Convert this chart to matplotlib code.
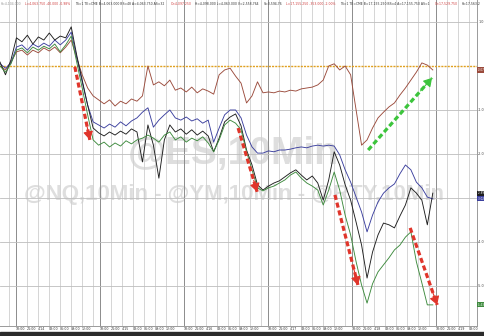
import matplotlib
matplotlib.use("Agg")
import matplotlib.pyplot as plt
import numpy as np

# ---- data: % change vs reference, sampled every 1.5 session-hours ----
hours = np.arange(80) * 1.5

es = [0.00, -0.09, 0.09, 0.32, 0.36, 0.25, 0.36, 0.30, 0.41, 0.34,
      0.43, 0.30, 0.43, 0.59, 0.18, -0.20, -0.50, -0.68, -0.77, -0.86,
      -0.77, -0.91, -0.80, -0.86, -0.75, -0.80, -0.68, 0.00, -0.43, -0.36,
      -0.45, -0.32, -0.55, -0.50, -0.59, -0.48, -0.61, -0.52, -0.57, -0.64,
      -0.20, -0.09, -0.05, -0.23, -0.39, -0.84, -0.68, -0.36, -0.61, -0.59,
      -0.61, -0.57, -0.59, -0.55, -0.57, -0.52, -0.50, -0.48, -0.43, -0.32,
      0.00, 0.05, -0.09, 0.00, -0.20, -1.00, -1.80, -1.68, -1.41, -1.18,
      -1.05, -0.93, -0.84, -0.66, -0.50, -0.32, -0.14, 0.07, 0.02, -0.09]

nq = [0.05, -0.05, 0.07, 0.43, 0.48, 0.36, 0.50, 0.43, 0.52, 0.45,
      0.59, 0.48, 0.59, 0.77, 0.20, -0.36, -0.89, -1.27, -1.34, -1.41,
      -1.32, -1.39, -1.27, -1.36, -1.25, -1.18, -1.05, -0.95, -1.39, -1.23,
      -1.11, -1.00, -1.18, -1.23, -1.16, -1.25, -1.20, -1.30, -1.23, -1.73,
      -1.41, -1.11, -1.00, -1.00, -1.18, -1.57, -1.84, -1.98, -1.98, -1.93,
      -1.95, -1.91, -1.91, -1.89, -1.86, -1.84, -1.86, -1.82, -1.80, -1.82,
      -1.80, -1.82, -2.02, -2.36, -2.64, -2.98, -3.32, -3.77, -3.39, -3.09,
      -2.89, -2.77, -2.68, -2.45, -2.25, -2.36, -2.64, -2.77, -2.98, -3.02]

ym = [0.09, -0.20, 0.14, 0.64, 0.55, 0.70, 0.50, 0.66, 0.59, 0.75,
      0.59, 0.68, 0.64, 0.89, 0.25, -0.32, -0.89, -1.41, -1.52, -1.59,
      -1.50, -1.57, -1.48, -1.55, -1.43, -1.50, -2.18, -1.34, -1.80, -2.55,
      -1.68, -1.34, -1.50, -1.43, -1.55, -1.45, -1.57, -1.48, -1.59, -1.95,
      -1.64, -1.27, -1.16, -1.09, -1.36, -1.91, -2.25, -2.70, -2.82, -2.73,
      -2.66, -2.61, -2.52, -2.43, -2.36, -2.48, -2.59, -2.50, -2.66, -3.05,
      -2.59, -1.95, -2.25, -2.70, -3.05, -3.55, -4.07, -4.82, -4.23, -3.84,
      -3.57, -3.61, -3.68, -3.41, -3.16, -2.77, -2.89, -3.05, -3.61, -2.89]

rty = [0.00, -0.14, 0.05, 0.36, 0.41, 0.30, 0.43, 0.36, 0.45, 0.39,
       0.50, 0.32, 0.48, 0.68, 0.09, -0.50, -1.11, -1.68, -1.80, -1.73,
       -1.84, -1.75, -1.82, -1.70, -1.77, -1.68, -1.64, -1.57, -1.64, -1.73,
       -1.57, -1.50, -1.68, -1.61, -1.73, -1.64, -1.70, -1.61, -1.75, -1.95,
       -1.68, -1.34, -1.23, -1.30, -1.45, -1.95, -2.36, -2.77, -2.84, -2.77,
       -2.73, -2.66, -2.59, -2.48, -2.41, -2.55, -2.66, -2.73, -2.82, -3.16,
       -2.82, -2.41, -2.82, -3.39, -3.84, -4.45, -4.98, -5.39, -4.95, -4.68,
       -4.52, -4.36, -4.18, -4.07, -3.89, -3.77, -4.45, -4.93, -5.43, -5.43]

series_colors = ["#9b4b3c", "#3b3f9e", "#1e1e1e", "#3d8a3d"]
last_labels = ["-0.07", "-3.02", "-2.89", "-5.43"]

yticks = [1, -1, -2, -3, -4, -5]
ytick_labels = ["1.0", "-1.0", "-2.0", "-3.0", "-4.0", "-5.0"]

# session layout: each trading day = 23 h, gridlines every 3 h
session_start = 4.4
session_len = 23
day_dates = ["4/14", "4/15", "4/16", "4/17", "4/18", "4/19"]
slot_labels = ["18:00", "21:00", None, "03:00", "06:00", "09:00", "12:00", ""]

# annotation arrows (time, %)
red_arrows = [((20.5, -0.02), (24.6, -1.68)),
              ((65.2, -1.41), (70.4, -2.86)),
              ((91.7, -2.93), (98.0, -4.98)),
              ((112.3, -3.68), (119.7, -5.43))]
green_arrows = [((100.8, -1.91), (118.3, -0.27))]

header = [("H=4,104.000", "#999999"), ("L=4,063.750 -40.000 -0.98%", "#d04040"),
          ("TS=1 TE=CME B=4,063.000 BS=48 A=4,063.750 AS=32", "#333333"),
          ("O=4,097.250", "#d04040"),
          ("H=4,098.000 L=4,063.000 V=2,558,764", "#333333"),
          ("V=3,594,76", "#333333"),
          ("L=17,155.250 -353.000 -2.00%", "#d04040"),
          ("TS=1 TE=CME B=17,155.250 BS=4 A=17,155.750 AS=1", "#333333"),
          ("O=17,529.750", "#d04040"),
          ("H=17,563.2", "#333333")]

# ---- figure ----
fig = plt.figure(figsize=(4.85, 3.36), dpi=100)
fig.patch.set_facecolor("white")
ax = fig.add_axes([0.0, 10 / 336, 477 / 485, 326 / 336])
ax.set_xlim(0, 130.6)
ax.set_ylim(-5.91, 1.5)

# vertical grid
ticks, labels = [], []
for d in range(6):
    base = session_start + d * session_len
    for m in range(8):
        t = base + 3 * m
        if t > 130.6:
            continue
        if m == 0:
            ax.axvline(t, color="#8c8c8c", lw=0.7, zorder=1)
        else:
            ax.axvline(t, color="#cfcfcf", lw=0.6, zorder=1)
        lab = slot_labels[m]
        if lab is None:
            lab = day_dates[d]
        ticks.append(t)
        labels.append(lab)
ax.axvline(session_start - 2, color="#cfcfcf", lw=0.6, zorder=1)

for y in yticks:
    ax.axhline(y, color="#bdbdbd", lw=0.6, zorder=1)
ax.axhline(0, color="#e0a020", lw=1.0, ls=(0, (1.5, 0.8)), zorder=2)

# watermark
ax.text(0.49, 0.527, "@ES,10Min", transform=ax.transAxes, ha="center", va="center",
        fontsize=28, fontweight="bold", color="#dedede", family="Liberation Sans", zorder=0)
ax.text(0.49, 0.402, "@NQ,10Min - @YM,10Min - @RTY,10Min", transform=ax.transAxes,
        ha="center", va="center", fontsize=16, fontweight="bold", color="#dedede",
        family="Liberation Sans", zorder=0)

for vals, col in zip([es, nq, ym, rty], series_colors):
    ax.plot(hours, vals, color=col, lw=0.65, zorder=3)


def dashed_arrow(s, e, col):
    ax.plot([s[0], e[0]], [s[1], e[1]], color=col, lw=2.3,
            ls=(0, (1.6, 0.9)), solid_capstyle="butt", zorder=5)
    hs = (s[0] + 0.82 * (e[0] - s[0]), s[1] + 0.82 * (e[1] - s[1]))
    ax.annotate("", xy=e, xytext=hs,
                arrowprops=dict(arrowstyle="-|>,head_length=0.5,head_width=0.3",
                                color=col, lw=0.8, mutation_scale=10,
                                shrinkA=0, shrinkB=0), zorder=6)


for s, e in red_arrows:
    dashed_arrow(s, e, "#e0352b")
for s, e in green_arrows:
    dashed_arrow(s, e, "#3cc43c")

# axes styling
for sp in ["top", "left"]:
    ax.spines[sp].set_visible(False)
ax.spines["right"].set_color("#9a9a9a")
ax.spines["right"].set_linewidth(0.7)
ax.spines["bottom"].set_color("#9a9a9a")
ax.spines["bottom"].set_linewidth(0.7)
ax.yaxis.tick_right()
ax.set_yticks(yticks)
ax.set_yticklabels(ytick_labels, fontsize=2.4, color="#444444")
ax.tick_params(axis="y", length=0, pad=0.8)
ax.set_xticks(ticks)
ax.set_xticklabels(labels, fontsize=2.3, color="#333333", ha="left")
ax.tick_params(axis="x", length=0, pad=1)

# last-value flags on right axis
last_vals = [es[-1], nq[-1], ym[-1], rty[-1]]
for v, col, lab in zip(last_vals, series_colors, last_labels):
    ax.annotate(lab, xy=(1.0, v), xycoords=("axes fraction", "data"),
                xytext=(0.6, 0), textcoords="offset points", ha="left", va="center",
                fontsize=2.0, color="white", annotation_clip=False,
                bbox=dict(boxstyle="square,pad=0.2", fc=col, ec="none"))

# header quote line, placed piece after piece, scaled to fit the width
renderer = fig.canvas.get_renderer()
widths = []
for txt, col in header:
    t = fig.text(0, 0, txt, fontsize=2.3)
    widths.append(t.get_window_extent(renderer).width)
    t.remove()
gap = 2.5
total = sum(widths) + gap * (len(header) - 1)
fs = 2.3 * min(1.0, 480.0 / total)
xpix = 1.0
for (txt, col), w in zip(header, widths):
    fig.text(xpix / 485, 1 - 4 / 336, txt, fontsize=fs, color=col, va="center", ha="left")
    xpix += w * fs / 2.3 + gap

# dark bottom bar
fig.add_artist(plt.Rectangle((0, 0), 1, 4.5 / 336, transform=fig.transFigure,
                             color="#2b2b2b", zorder=10))

fig.savefig("out.png", dpi=100)
